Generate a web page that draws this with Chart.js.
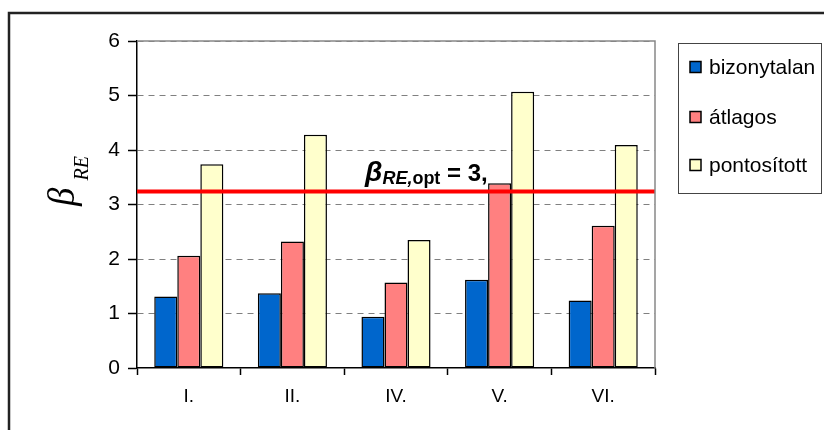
<!DOCTYPE html>
<html>
<head>
<meta charset="utf-8">
<script src="https://cdn.jsdelivr.net/npm/chart.js@4"></script>
<style>
  body { margin: 0; background: #fff; }
</style>
</head>
<body>
<canvas id="bar-chart" width="824" height="430"></canvas>
<script>
var categories = ['I.', 'II.', 'IV.', 'V.', 'VI.'];
var seriesNames = ['bizonytalan', 'átlagos', 'pontosított'];
var bizonytalan = [1.31, 1.37, 0.94, 1.62, 1.24];
var atlagos = [2.06, 2.32, 1.57, 3.39, 2.61];
var pontositott = [3.74, 4.28, 2.35, 5.07, 4.09];
var optValue = 3.24;
var yTicks = [0, 1, 2, 3, 4, 5, 6];

// frame, plot border, red line, annotation, y title and legend
var extras = {
    id: 'extras',
    afterDatasetsDraw: function(chart) {
        var ctx = chart.ctx;
        var a = chart.chartArea;
        var y = chart.scales.y.getPixelForValue(optValue);
        ctx.save();
        ctx.strokeStyle = '#ff0000';
        ctx.lineWidth = 4;
        ctx.beginPath();
        ctx.moveTo(a.left, y);
        ctx.lineTo(a.right, y);
        ctx.stroke();
        ctx.restore();
    },
    afterDraw: function(chart) {
        var ctx = chart.ctx;
        var a = chart.chartArea;
        ctx.save();

        // outer frame (only left and top visible)
        ctx.strokeStyle = '#222';
        ctx.lineWidth = 2.5;
        ctx.beginPath();
        ctx.moveTo(9, 432);
        ctx.lineTo(9, 13);
        ctx.lineTo(826, 13);
        ctx.stroke();

        // plot area top and right
        ctx.strokeStyle = '#888';
        ctx.lineWidth = 1.5;
        ctx.beginPath();
        ctx.moveTo(a.left, a.top);
        ctx.lineTo(a.right, a.top);
        ctx.lineTo(a.right, a.bottom);
        ctx.stroke();

        // annotation
        ctx.fillStyle = '#000';
        ctx.textBaseline = 'alphabetic';
        ctx.textAlign = 'left';
        var x = 365, base = 181;
        ctx.font = 'italic bold 28px "Liberation Sans", Arial';
        ctx.fillText('β', x, base);
        x += ctx.measureText('β').width;
        ctx.font = 'italic bold 18px "Liberation Sans", Arial';
        ctx.fillText('RE,', x, base + 3);
        x += ctx.measureText('RE,').width;
        ctx.font = 'bold 18px "Liberation Sans", Arial';
        ctx.fillText('opt', x, base + 3);
        x += ctx.measureText('opt').width;
        ctx.font = 'bold 24px "Liberation Sans", Arial';
        ctx.fillText(' = 3,', x, base);

        // y axis title
        ctx.save();
        ctx.translate(74, 206);
        ctx.rotate(-Math.PI / 2);
        ctx.font = 'italic 37px "Liberation Serif", "DejaVu Serif", serif';
        ctx.fillText('β', 0, 0);
        var w = ctx.measureText('β').width;
        ctx.font = 'italic 20px "Liberation Serif", "DejaVu Serif", serif';
        ctx.fillText('RE', w + 7, 14);
        ctx.restore();

        // legend
        ctx.strokeStyle = '#444';
        ctx.lineWidth = 1;
        ctx.strokeRect(678.5, 43.5, 143, 150);
        var rows = [67, 117, 165];
        chart.data.datasets.forEach(function(ds, i) {
            ctx.fillStyle = ds.backgroundColor;
            ctx.fillRect(690, rows[i] - 5.5, 11, 11);
            ctx.strokeStyle = '#000';
            ctx.lineWidth = 1.5;
            ctx.strokeRect(690, rows[i] - 5.5, 11, 11);
            ctx.fillStyle = '#000';
            ctx.font = '21px "Liberation Sans", Arial';
            ctx.textBaseline = 'middle';
            ctx.fillText(ds.label, 709, rows[i] + 1);
        });
        ctx.restore();
    }
};

var chart = new Chart(document.getElementById('bar-chart'), {
    type: 'bar',
    data: {
        labels: categories,
        datasets: [
            {label: seriesNames[0], data: bizonytalan, backgroundColor: '#0066cc'},
            {label: seriesNames[1], data: atlagos, backgroundColor: '#ff8080'},
            {label: seriesNames[2], data: pontositott, backgroundColor: '#ffffcc'}
        ]
    },
    options: {
        responsive: false,
        animation: false,
        layout: {padding: {left: 97, right: 169, top: 41, bottom: 0}},
        datasets: {
            bar: {
                borderColor: '#000',
                borderWidth: 1.5,
                borderSkipped: false,
                barPercentage: 1,
                categoryPercentage: 0.667
            }
        },
        scales: {
            x: {
                grid: {offset: true, drawOnChartArea: false, tickLength: 7, tickColor: '#000', tickWidth: 1.5},
                border: {color: '#000', width: 1.5},
                ticks: {color: '#000', font: {family: '"Liberation Sans", Arial', size: 19}, padding: 10},
                afterFit: function(s) { s.height = 62; }
            },
            y: {
                min: 0,
                max: 6,
                afterBuildTicks: function(s) { s.ticks = yTicks.map(function(v) { return {value: v}; }); },
                grid: {
                    color: function(c) { return c.tick && c.tick.value === 0 ? 'rgba(0,0,0,0)' : '#808080'; },
                    lineWidth: 1, tickLength: 9, tickColor: '#000', tickWidth: 1.5, tickBorderDash: []
                },
                border: {color: '#000', width: 1.5, dash: [6, 5]},
                ticks: {color: '#000', font: {family: '"Liberation Sans", Arial', size: 21}, padding: 8},
                afterFit: function(s) { s.width = 40; }
            }
        },
        plugins: {
            legend: {display: false},
            tooltip: {enabled: false}
        }
    },
    plugins: [extras]
});
</script>
</body>
</html>
